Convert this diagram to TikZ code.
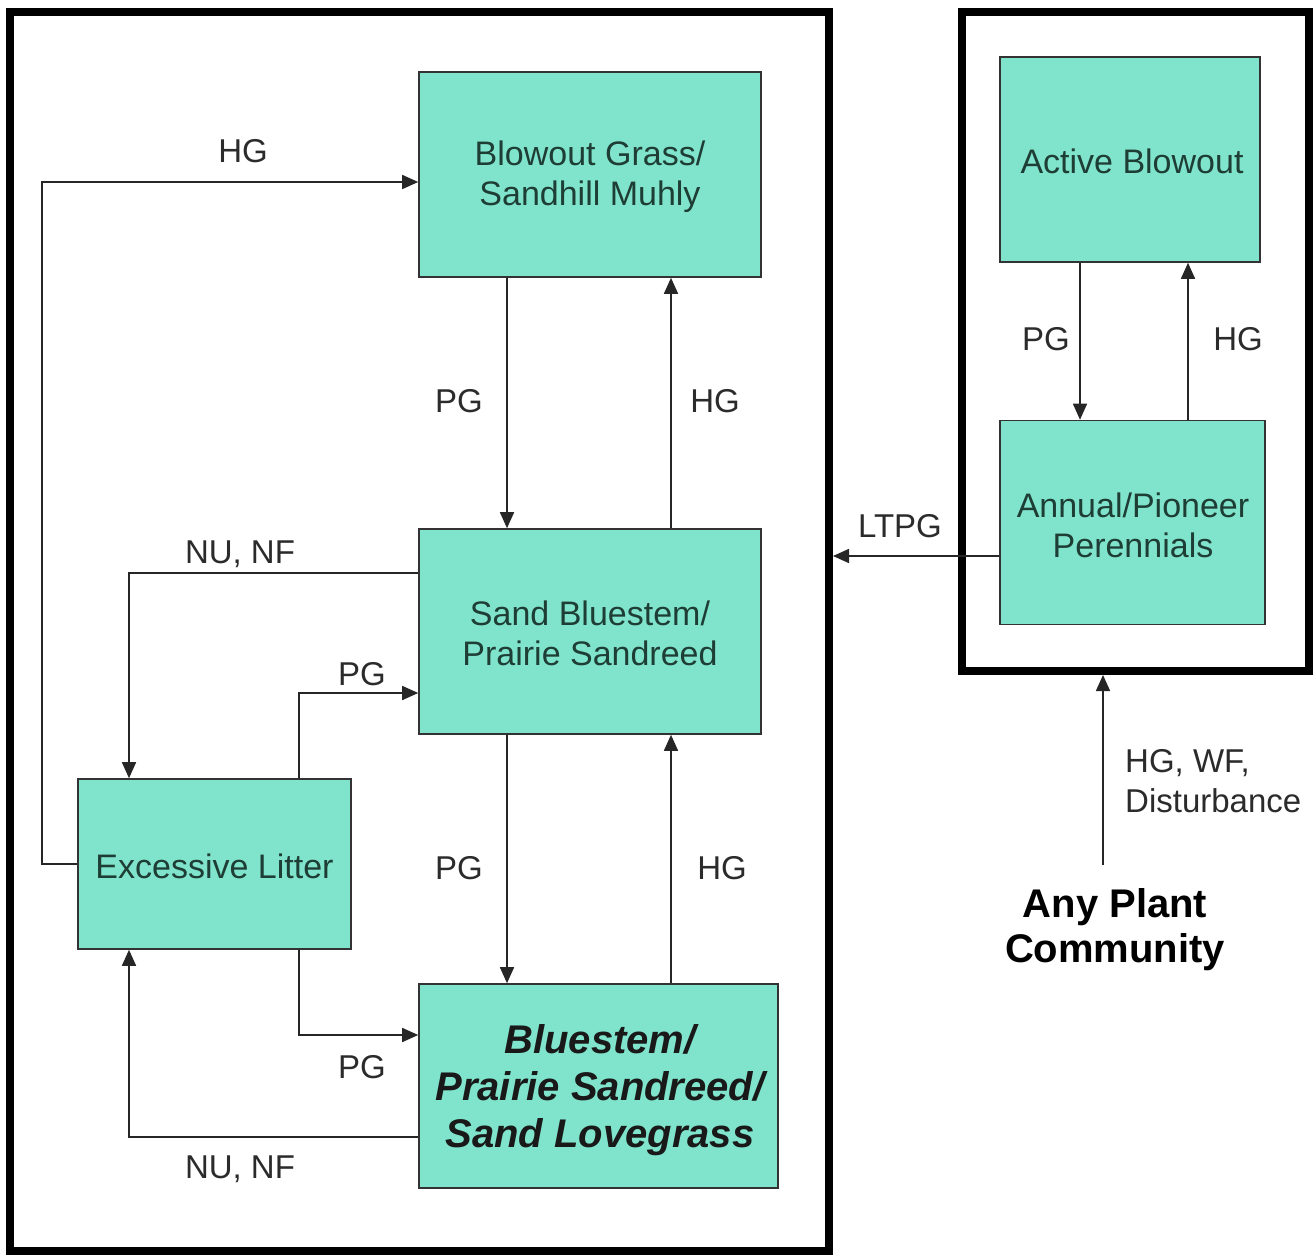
\documentclass[tikz,border=0pt]{standalone}
\usepackage{fontspec}
\setmainfont{Liberation Sans}
\usetikzlibrary{arrows.meta}
\definecolor{boxfill}{HTML}{80E4CC}
\definecolor{boxtext}{HTML}{1E3D35}
\definecolor{lbl}{HTML}{2B2B2B}
\begin{document}
\begin{tikzpicture}[x=1pt,y=-1pt,
 state/.style={draw=black!80, line width=1.6pt, fill=boxfill, inner sep=0pt},
 stext/.style={text=boxtext, inner sep=0pt, align=center, font=\fontsize{34}{40}\selectfont},
 frame/.style={draw=black, line width=8pt, inner sep=0pt},
 arr/.style={draw=black!85, line width=1.6pt, -{Triangle[length=16pt,width=14pt]}},
 lab/.style={text=lbl, inner sep=0pt, font=\fontsize{33}{40}\selectfont},
 bigbold/.style={text=black, inner sep=0pt, align=center, font=\fontsize{40}{45}\selectfont\bfseries}]
\useasboundingbox[fill=white] (0,0) rectangle (1315,1256);

% frames
\node[frame, minimum width=819pt, minimum height=1239.5pt] (lframe) at (419.5,631.25) {};
\node[frame, minimum width=347pt, minimum height=659.5pt] (rframe) at (1135.5,341.25) {};

% states
\node[state, minimum width=342pt, minimum height=205pt] (blow) at (590,174.5) {};
\node[stext] (blowt) at (590,177) {Blowout Grass/\\Sandhill Muhly};
\node[state, minimum width=342pt, minimum height=205pt] (sand) at (590,631.5) {};
\node[stext] (sandt) at (590,633) {Sand Bluestem/\\Prairie Sandreed};
\node[state, minimum width=273pt, minimum height=170pt] (exc) at (214.5,864) {};
\node[stext] (exct) at (214.5,866) {Excessive Litter};
\node[state, minimum width=359pt, minimum height=204pt] (bs) at (598.5,1086) {};
\node[stext, font=\fontsize{40}{47}\selectfont\bfseries\itshape, text=black!90] (bst) at (600,1090) {Bluestem/\\Prairie Sandreed/\\Sand Lovegrass};
\node[state, minimum width=260pt, minimum height=205pt] (act) at (1130,159.5) {};
\node[stext] (actt) at (1132,161) {Active Blowout};
\node[state, minimum width=265pt, minimum height=204pt] (ann) at (1132.5,522.5) {};
\node[stext] (annt) at (1133,525) {Annual/Pioneer\\Perennials};

% connectors
\draw[arr] (exc.west) -- ++(-35,0) |- (blow.west |- 0,182);
\draw[arr] (blow.south -| 507,0) -- (sand.north -| 507,0);
\draw[arr] (sand.north -| 671,0) -- (blow.south -| 671,0);
\draw[arr] (sand.west |- 0,573) -| (exc.north -| 129,0);
\draw[arr] (exc.north -| 299,0) |- (sand.west |- 0,693);
\draw[arr] (sand.south -| 507,0) -- (bs.north -| 507,0);
\draw[arr] (bs.north -| 671,0) -- (sand.south -| 671,0);
\draw[arr] (exc.south -| 299,0) |- (bs.west |- 0,1035);
\draw[arr] (bs.west |- 0,1137) -| (exc.south -| 129,0);
\draw[arr] (act.south -| 1080,0) -- (ann.north -| 1080,0);
\draw[arr] (ann.north -| 1188,0) -- (act.south -| 1188,0);
\draw[arr] (ann.west |- 0,556) -- (lframe.east |- 0,556);
\coordinate (apcfoot) at (1103,865);
\draw[arr] (apcfoot) -- (rframe.south -| apcfoot);

% labels
\node[lab] (l1) at (243,151) {HG};
\node[lab] (l2) at (459,401) {PG};
\node[lab] (l3) at (715,401) {HG};
\node[lab] (l4) at (240,554) {NU, NF};
\node[lab] (l5) at (362,674) {PG};
\node[lab] (l6) at (459,868) {PG};
\node[lab] (l7) at (722,868) {HG};
\node[lab] (l8) at (362,1067) {PG};
\node[lab] (l9) at (240,1169) {NU, NF};
\node[lab] (l10) at (1046,339) {PG};
\node[lab] (l11) at (1238,339) {HG};
\node[lab] (l12) at (900,526) {LTPG};
\node[lab, anchor=west, align=left] (l13) at (1125,781) {HG, WF,\\Disturbance};
\node[bigbold] (apc) at (1115,930) {Any Plant\\Community};
\end{tikzpicture}
\end{document}
